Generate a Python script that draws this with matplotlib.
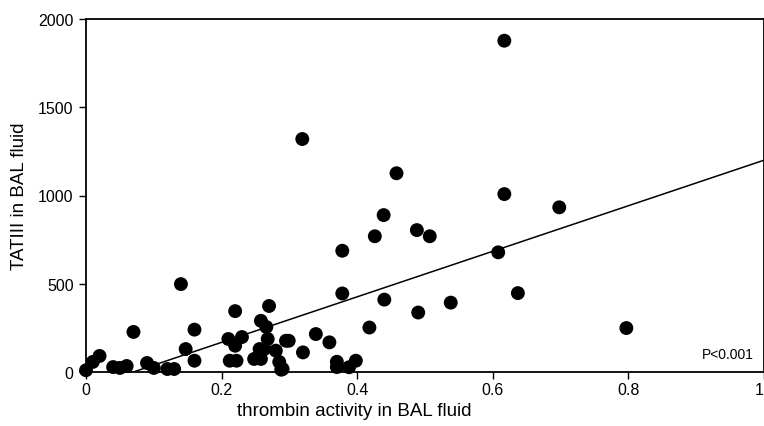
import numpy as np
import matplotlib
matplotlib.use('Agg')
from matplotlib import pyplot as plt

plt.rcParams['font.family'] = ['Liberation Sans', 'DejaVu Sans']

# thrombin activity vs TATIII
thrombin = [0.0, 0.01, 0.02, 0.04, 0.05, 0.06, 0.07, 0.09, 0.10, 0.12, 0.13, 0.147,
            0.14, 0.16, 0.16, 0.21, 0.22, 0.23, 0.212, 0.222, 0.22, 0.27,
            0.258, 0.266, 0.268, 0.263, 0.256, 0.248, 0.258, 0.28, 0.285, 0.288, 0.295,
            0.299, 0.32, 0.339, 0.359, 0.37, 0.37, 0.398, 0.388, 0.29,
            0.319, 0.378, 0.378, 0.418, 0.426, 0.439, 0.44, 0.458, 0.488, 0.49,
            0.507, 0.538, 0.608, 0.617, 0.617, 0.637, 0.698, 0.797]
tat = [10, 57, 91, 28, 23, 34, 227, 51, 23, 17, 17, 130,
       498, 240, 64, 187, 149, 198, 64, 64, 345, 374,
       290, 255, 187, 130, 130, 74, 74, 121, 57, 13, 177,
       177, 111, 215, 168, 58, 28, 64, 27, 17,
       1320, 687, 445, 252, 769, 889, 410, 1126, 804, 337,
       769, 393, 678, 1008, 1877, 447, 933, 249]

# fitted line
slope = 1290.0
intercept = -90.0
p_text = 'P<0.001'

fig = plt.figure(figsize=(7.64, 4.27), dpi=100)
ax = fig.add_axes([86/764, 54/427, 678/764, 353/427])

ax.scatter(thrombin, tat, s=100, color='k', edgecolors='none', zorder=3, clip_on=False)
xl = np.array([-intercept/slope, 1.0])
ax.plot(xl, intercept + slope*xl, color='k', linewidth=1.1)

ax.set_xlim(0, 1)
ax.set_ylim(0, 2000)
ax.set_xticks([0, 0.2, 0.4, 0.6, 0.8, 1])
ax.set_xticklabels(['0', '0.2', '0.4', '0.6', '0.8', '1'])
ax.set_yticks([0, 500, 1000, 1500, 2000])
ax.tick_params(axis='both', direction='out', length=5, width=1, labelsize=11.5)
ax.tick_params(axis='y', pad=4)
ax.tick_params(axis='x', pad=2)
ax.get_xticklabels()[-1].set_horizontalalignment('right')
for s in ax.spines.values():
	s.set_linewidth(1.3)

ax.text(0.985, 102, p_text, ha='right', va='center', fontsize=10)

ax.set_xlabel('thrombin activity in BAL fluid', fontsize=13.5)
ax.xaxis.set_label_coords(0.396, -0.085)
ax.set_ylabel('TATIII in BAL fluid', fontsize=13.5)
ax.yaxis.set_label_coords(-0.0855, 0.5)

fig.savefig('out.png', dpi=100)
